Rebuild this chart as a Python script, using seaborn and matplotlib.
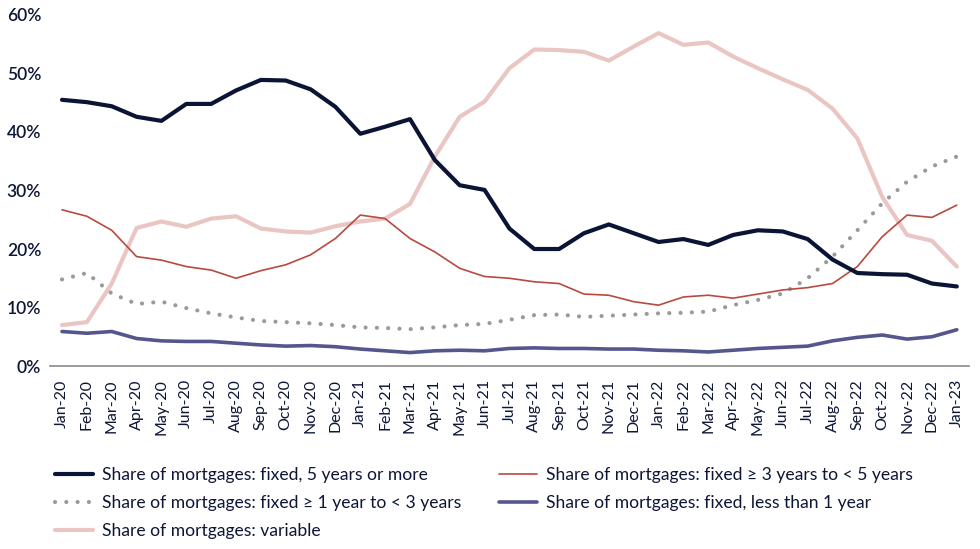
import pandas as pd
import matplotlib
matplotlib.use("Agg")
import matplotlib.pyplot as plt
import seaborn as sns

months = [
    "Jan-20", "Feb-20", "Mar-20", "Apr-20", "May-20", "Jun-20", "Jul-20", "Aug-20",
    "Sep-20", "Oct-20", "Nov-20", "Dec-20", "Jan-21", "Feb-21", "Mar-21", "Apr-21",
    "May-21", "Jun-21", "Jul-21", "Aug-21", "Sep-21", "Oct-21", "Nov-21", "Dec-21",
    "Jan-22", "Feb-22", "Mar-22", "Apr-22", "May-22", "Jun-22", "Jul-22", "Aug-22",
    "Sep-22", "Oct-22", "Nov-22", "Dec-22", "Jan-23",
]

fixed_5plus = [
    45.5, 45.1, 44.4, 42.6, 41.9, 44.8, 44.8, 47.1, 48.9, 48.8, 47.3, 44.3, 39.7,
    40.9, 42.2, 35.2, 30.9, 30.1, 23.5, 20.0, 20.0, 22.7, 24.2, 22.7, 21.2, 21.7,
    20.7, 22.4, 23.2, 23.0, 21.7, 18.2, 15.9, 15.7, 15.6, 14.1, 13.6,
]
fixed_3to5 = [
    26.7, 25.6, 23.2, 18.7, 18.1, 17.0, 16.4, 15.0, 16.3, 17.3, 19.0, 21.8, 25.8,
    25.2, 21.8, 19.5, 16.7, 15.3, 15.0, 14.4, 14.1, 12.3, 12.1, 11.0, 10.4, 11.8,
    12.1, 11.6, 12.3, 13.0, 13.4, 14.1, 17.0, 22.1, 25.8, 25.4, 27.5,
]
fixed_1to3 = [
    14.8, 15.9, 12.4, 10.6, 11.0, 9.9, 9.0, 8.3, 7.7, 7.5, 7.3, 7.0, 6.6,
    6.5, 6.3, 6.6, 7.0, 7.2, 7.9, 8.7, 8.8, 8.4, 8.6, 8.8, 9.0, 9.1,
    9.3, 10.4, 11.3, 12.4, 15.0, 18.7, 23.2, 27.8, 31.5, 34.1, 35.8,
]
fixed_under1 = [
    5.9, 5.6, 5.9, 4.7, 4.3, 4.2, 4.2, 3.9, 3.6, 3.4, 3.5, 3.3, 2.9,
    2.6, 2.3, 2.6, 2.7, 2.6, 3.0, 3.1, 3.0, 3.0, 2.9, 2.9, 2.7, 2.6,
    2.4, 2.7, 3.0, 3.2, 3.4, 4.3, 4.9, 5.3, 4.6, 5.0, 6.2,
]
variable = [
    7.0, 7.5, 14.1, 23.6, 24.7, 23.8, 25.2, 25.6, 23.5, 23.0, 22.8, 23.9, 24.7,
    25.2, 27.7, 35.8, 42.6, 45.2, 50.9, 54.1, 54.0, 53.7, 52.2, 54.6, 56.9, 54.9,
    55.3, 52.9, 50.9, 49.0, 47.2, 44.0, 38.9, 28.9, 22.4, 21.4, 17.0,
]

labels = {
    "navy": "Share of mortgages: fixed, 5 years or more",
    "red": "Share of mortgages: fixed \u2265 3 years to < 5 years",
    "gray": "Share of mortgages: fixed \u2265 1 year to < 3 years",
    "blue": "Share of mortgages: fixed, less than 1 year",
    "pink": "Share of mortgages: variable",
}

df = pd.DataFrame({
    "idx": range(len(months)),
    "navy": fixed_5plus,
    "red": fixed_3to5,
    "gray": fixed_1to3,
    "blue": fixed_under1,
    "pink": variable,
})

sns.set_style("white")
plt.rcParams["font.family"] = ["Lato", "DejaVu Sans"]

text_col = "#0d1636"

fig = plt.figure(figsize=(9.8, 5.49), dpi=100)
ax = fig.add_axes([0.0506, 0.3333, 0.9384, 0.6394])

# draw order: variable underneath, then the rest
sns.lineplot(data=df, x="idx", y="pink", ax=ax, color="#e9c6c3", lw=3.0,
             label=labels["pink"])
sns.lineplot(data=df, x="idx", y="blue", ax=ax, color="#56568f", lw=2.6,
             label=labels["blue"])
gray_line = sns.lineplot(data=df, x="idx", y="gray", ax=ax, color="#9a9a9a", lw=3.0,
                         label=labels["gray"]).lines[-1]
gray_line.set_linestyle((0, (0.01, 2.7)))
gray_line.set_dash_capstyle("round")
sns.lineplot(data=df, x="idx", y="red", ax=ax, color="#b84a3e", lw=1.2,
             label=labels["red"])
sns.lineplot(data=df, x="idx", y="navy", ax=ax, color="#0b1434", lw=3.0,
             label=labels["navy"])

ax.set_xlim(-0.5, len(months) - 0.5)
ax.set_ylim(0, 60)
ax.set_xticks(range(len(months)))
ax.set_xticklabels(months, rotation=90, fontsize=11.5, color=text_col)
ax.set_yticks(range(0, 61, 10))
ax.set_yticklabels([f"{v}%" for v in range(0, 61, 10)], fontsize=12.5,
                   color=text_col, fontweight="semibold")
ax.tick_params(axis="both", length=0)
ax.tick_params(axis="x", pad=9.5)
ax.tick_params(axis="y", pad=6)
ax.set_xlabel("")
ax.set_ylabel("")

for side in ["top", "right", "left"]:
    ax.spines[side].set_visible(False)
ax.spines["bottom"].set_color("#8a8a8a")
ax.spines["bottom"].set_linewidth(1.2)

# legend: column-major order to get the reference row layout
handles, labs = ax.get_legend_handles_labels()
lookup = dict(zip(labs, handles))
order = ["navy", "gray", "pink", "red", "blue"]
ax.get_legend().remove()
fig.legend(
    [lookup[labels[k]] for k in order],
    [labels[k] for k in order],
    loc="upper left",
    bbox_to_anchor=(0.049, 0.162),
    ncol=2,
    frameon=False,
    fontsize=12.6,
    handlelength=2.17,
    handletextpad=0.5,
    columnspacing=2.17,
    labelspacing=0.69,
    borderaxespad=0,
    labelcolor=text_col,
)

fig.savefig("out.png", dpi=100)
plt.close(fig)
